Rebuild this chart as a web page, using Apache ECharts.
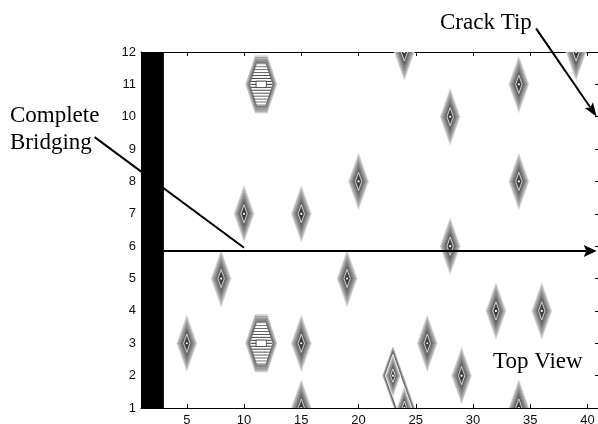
<!DOCTYPE html>
<html><head><meta charset="utf-8">
<script src="https://cdn.jsdelivr.net/npm/echarts@6/dist/echarts.min.js"></script>
<style>html,body{margin:0;padding:0;background:#fff;}#c{width:598px;height:424px;}</style>
</head><body><div id="c"></div>
<script>
// ---- data ----
const xTicks = [5, 10, 15, 20, 25, 30, 35, 40];
const yTicks = [1, 2, 3, 4, 5, 6, 7, 8, 9, 10, 11, 12];
const xRange = [1, 41];
const yRange = [1, 12];
// diamond-shaped contour blobs (centres)
const diamondX = [5, 8, 10, 15, 15, 15, 19, 20, 24, 26, 28, 28, 29, 32, 34, 34, 34, 36, 39];
const diamondY = [3, 5, 7, 7, 3, 1, 5, 8, 12, 3, 10, 6, 2, 4, 11, 8, 1, 4, 12];
// striped hexagonal blobs
const stripedX = [11.5, 11.5];
const stripedY = [11, 3];
// merged pair of blobs
const pairX = [23, 24];
const pairY = [2, 1];
// complete bridging zone (black bar)
const bridgeX = [1, 3];
// crack front line
const crackLineY = 5.85;
// annotations (data coordinates)
const crackTipArrow = [[35.5, 12.73], [40.8, 10.0]];
const bridgingLine = [[-3.05, 9.37], [10, 5.95]];
const crackArrow = [[3, crackLineY], [40.8, crackLineY]];

const R = 0.88;

function grey(g) { g = Math.max(0, Math.min(255, Math.round(g))); return 'rgb(' + g + ',' + g + ',' + g + ')'; }

function diamondPts(cx, cy, rx, ry) {
  return [[cx - rx, cy], [cx, cy - ry], [cx + rx, cy], [cx, cy + ry]];
}

function diamondGroup(c, s, r, levels) {
  const ch = [];
  for (let i = 0; i < levels; i++) {
    const f = 1 - i / levels;
    const t = i / (levels - 1);
    const g = 200 - 165 * Math.pow(t, 0.75);
    ch.push({ type: 'polygon', shape: { points: diamondPts(c[0], c[1], r * f * s[0], r * f * s[1]) },
      style: { fill: grey(g), stroke: grey(g + 30), lineWidth: 0.7 } });
  }
  ch.push({ type: 'polygon', shape: { points: diamondPts(c[0], c[1], r * 0.32 * s[0], r * 0.32 * s[1]) },
    style: { fill: 'none', stroke: '#eee', lineWidth: 0.8 } });
  ch.push({ type: 'circle', shape: { cx: c[0], cy: c[1], r: 1.1 }, style: { fill: '#fff' } });
  return ch;
}

function renderDiamond(params, api) {
  const c = api.coord([api.value(0), api.value(1)]);
  const s = api.size([1, 1]);
  return { type: 'group', children: diamondGroup(c, s, R, 10) };
}

function renderStriped(params, api) {
  const c = api.coord([api.value(0), api.value(1)]);
  const s = api.size([1, 1]);
  const ch = [];
  const hy = 0.88, topHw = 0.52, midHw = 1.34;
  for (let i = 0; i < 5; i++) {
    const f = 1 - i * 0.06;
    const g = 210 - i * 25;
    const pts = [[c[0] - midHw * f * s[0], c[1]], [c[0] - topHw * f * s[0], c[1] - hy * f * s[1]],
      [c[0] + topHw * f * s[0], c[1] - hy * f * s[1]], [c[0] + midHw * f * s[0], c[1]],
      [c[0] + topHw * f * s[0], c[1] + hy * f * s[1]], [c[0] - topHw * f * s[0], c[1] + hy * f * s[1]]];
    ch.push({ type: 'polygon', shape: { points: pts }, style: { fill: i === 4 ? '#fff' : grey(g + 15), stroke: grey(g - 30), lineWidth: 0.7 } });
  }
  const n = 19;
  for (let k = 0; k < n; k++) {
    const dy = -0.82 + k * (1.64 / (n - 1));
    const hw = 0.95 - Math.abs(dy) / 0.86 * 0.45;
    const y = c[1] - dy * s[1];
    const dark = 45 + Math.abs(dy) / 0.82 * 110;
    ch.push({ type: 'line', shape: { x1: c[0] - hw * s[0], y1: y, x2: c[0] + hw * s[0], y2: y },
      style: { stroke: grey(dark), lineWidth: 1 } });
  }
  ch.push({ type: 'rect', shape: { x: c[0] - 0.45 * s[0], y: c[1] - 0.1 * s[1], width: 0.9 * s[0], height: 0.2 * s[1] },
    style: { fill: '#fff', stroke: '#333', lineWidth: 0.8 } });
  return { type: 'group', children: ch };
}

function renderPair(params, api) {
  const a = api.coord([api.value(0), api.value(1)]);
  const b = api.coord([api.value(2), api.value(3)]);
  const s = api.size([1, 1]);
  const ch = [];
  for (let i = 0; i < 4; i++) {
    const r = R * (1 - i * 0.06);
    const pts = [[a[0] - r * s[0], a[1]], [a[0], a[1] - r * s[1]], [b[0] + r * s[0], b[1]], [b[0], b[1] + r * s[1]]];
    ch.push({ type: 'polygon', shape: { points: pts }, style: { fill: i === 3 ? '#fff' : grey(215 - i * 25), stroke: grey(185 - i * 35), lineWidth: 0.8 } });
  }
  diamondGroup(a, s, R * 0.74, 8).forEach(e => ch.push(e));
  diamondGroup(b, s, R * 0.74, 8).forEach(e => ch.push(e));
  return { type: 'group', children: ch };
}

function renderBar(params, api) {
  const p0 = api.coord([api.value(0), yRange[1]]);
  const p1 = api.coord([api.value(1), yRange[0]]);
  return { type: 'rect', shape: { x: p0[0], y: p0[1], width: p1[0] - p0[0], height: p1[1] - p0[1] }, style: { fill: '#000' } };
}

const labelFont = { fontFamily: 'Liberation Sans', fontSize: 13, color: '#111' };

const chart = echarts.init(document.getElementById('c'), null, { renderer: 'canvas', width: 598, height: 424 });
chart.setOption({
  animation: false,
  backgroundColor: '#fff',
  grid: { left: 141, top: 52, width: 458, height: 356, containLabel: false, outerBoundsMode: 'none' },
  xAxis: [
    { type: 'value', min: xRange[0], max: xRange[1], position: 'bottom',
      axisLine: { show: true, onZero: false, lineStyle: { color: '#000', width: 1 } },
      axisTick: { show: true, inside: true, length: 4, customValues: xTicks, lineStyle: { color: '#000' } },
      axisLabel: Object.assign({ customValues: xTicks, margin: 6 }, labelFont),
      splitLine: { show: false } },
    { type: 'value', min: xRange[0], max: xRange[1], position: 'top',
      axisLine: { show: true, onZero: false, lineStyle: { color: '#000', width: 1 } },
      axisTick: { show: true, inside: true, length: 4, customValues: xTicks, lineStyle: { color: '#000' } },
      axisLabel: { show: false }, splitLine: { show: false } }
  ],
  yAxis: [
    { type: 'value', min: yRange[0], max: yRange[1], interval: 1, position: 'left',
      axisLine: { show: true, onZero: false, lineStyle: { color: '#000' } },
      axisTick: { show: true, inside: true, length: 4, lineStyle: { color: '#000' } },
      axisLabel: Object.assign({ margin: 5, formatter: v => yTicks.indexOf(v) >= 0 ? String(v) : '' }, labelFont),
      splitLine: { show: false } },
    { type: 'value', min: yRange[0], max: yRange[1], interval: 1, position: 'right',
      axisLine: { show: true, onZero: false, lineStyle: { color: '#000' } },
      axisTick: { show: true, inside: true, length: 4, lineStyle: { color: '#000' } },
      axisLabel: { show: false }, splitLine: { show: false } }
  ],
  series: [
    { type: 'custom', name: 'blobs', clip: true, renderItem: renderDiamond,
      data: diamondX.map((x, i) => [x, diamondY[i]]), z: 2 },
    { type: 'custom', name: 'striped', clip: true, renderItem: renderStriped,
      data: stripedX.map((x, i) => [x, stripedY[i]]), z: 2 },
    { type: 'custom', name: 'pair', clip: true, renderItem: renderPair,
      data: [[pairX[0], pairY[0], pairX[1], pairY[1]]], z: 2 },
    { type: 'custom', name: 'bridge', clip: true, renderItem: renderBar,
      data: [[bridgeX[0], bridgeX[1]]], z: 3 }
  ]
});

function px(p) { return chart.convertToPixel({ gridIndex: 0 }, p); }

function arrow(p0, p1, headLen, headHalf, lw) {
  const dx = p1[0] - p0[0], dy = p1[1] - p0[1];
  const L = Math.sqrt(dx * dx + dy * dy);
  const ux = dx / L, uy = dy / L, nx = -uy, ny = ux;
  const bx = p1[0] - ux * headLen, by = p1[1] - uy * headLen;
  const mx = p1[0] - ux * headLen * 0.8, my = p1[1] - uy * headLen * 0.8;
  return [
    { type: 'line', shape: { x1: p0[0], y1: p0[1], x2: mx, y2: my }, style: { stroke: '#000', lineWidth: lw }, z: 100 },
    { type: 'polygon', shape: { points: [[p1[0], p1[1]], [bx + nx * headHalf, by + ny * headHalf], [mx, my], [bx - nx * headHalf, by - ny * headHalf]] },
      style: { fill: '#000' }, z: 100 }
  ];
}

const serif = '23px "Liberation Serif"';
const gfx = [];
arrow(px(crackArrow[0]), px(crackArrow[1]), 13, 6, 2).forEach(e => gfx.push(e));
arrow(px(crackTipArrow[0]), px(crackTipArrow[1]), 14, 5, 2).forEach(e => gfx.push(e));
const b0 = px(bridgingLine[0]), b1 = px(bridgingLine[1]);
gfx.push({ type: 'line', shape: { x1: b0[0], y1: b0[1], x2: b1[0], y2: b1[1] }, style: { stroke: '#000', lineWidth: 2 }, z: 1 });
gfx.push({ type: 'text', x: 440, y: 23, style: { text: 'Crack Tip', font: serif, fill: '#000', textAlign: 'left', textVerticalAlign: 'middle' }, z: 100 });
gfx.push({ type: 'text', x: 10, y: 116, style: { text: 'Complete', font: serif, fill: '#000', textAlign: 'left', textVerticalAlign: 'middle' }, z: 100 });
gfx.push({ type: 'text', x: 10, y: 143, style: { text: 'Bridging', font: serif, fill: '#000', textAlign: 'left', textVerticalAlign: 'middle' }, z: 100 });
gfx.push({ type: 'text', x: 493, y: 362, style: { text: 'Top View', font: serif, fill: '#000', textAlign: 'left', textVerticalAlign: 'middle' }, z: 100 });
chart.setOption({ graphic: gfx });
</script></body></html>
